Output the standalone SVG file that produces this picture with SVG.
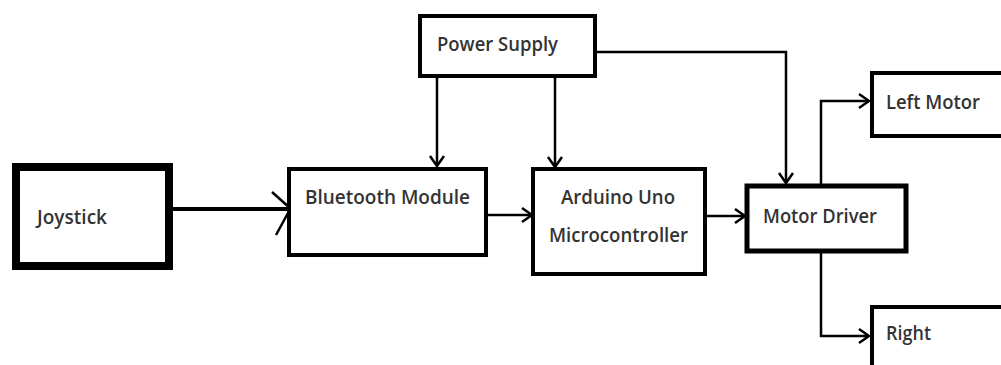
<svg xmlns="http://www.w3.org/2000/svg" width="1001" height="365" viewBox="0 0 1001 365">
<style>
.box{fill:#fff;stroke:#000}
.t{font-family:"Open Sans","Liberation Sans",sans-serif;font-weight:600;font-size:20px;fill:#333}
.c{fill:none;stroke:#000;stroke-width:2.5}
</style>
<defs>
<marker id="ah" markerUnits="userSpaceOnUse" markerWidth="20" markerHeight="20" viewBox="-12 -10 14 20" refX="0" refY="0" orient="auto">
<path d="M-10,-7 L0,0 L-10,7" fill="none" stroke="#000" stroke-width="2.5"/>
</marker>
</defs>
<rect width="1001" height="365" fill="#fff"/>
<g id="connectors">
<line x1="169" y1="209" x2="290" y2="209" stroke="#000" stroke-width="4"/>
<path d="M272,192 L291,209 M276,235 L288,213" fill="none" stroke="#000" stroke-width="2.5"/>
<path class="c" d="M437,77 V166" marker-end="url(#ah)"/>
<path class="c" d="M555,77 V167" marker-end="url(#ah)"/>
<path class="c" d="M595,52 H786 V183" marker-end="url(#ah)"/>
<path class="c" d="M486,215 H532" marker-end="url(#ah)"/>
<path class="c" d="M705,216 H745" marker-end="url(#ah)"/>
<path class="c" d="M821,185 V101 H869" marker-end="url(#ah)"/>
<path class="c" d="M821,251 V336 H869" marker-end="url(#ah)"/>
</g>
<g id="joystick">
<rect class="box" x="16" y="167" width="153" height="99" stroke-width="8"/>
<text class="t" x="37" y="224" font-size="17" font-weight="700" textLength="70" lengthAdjust="spacingAndGlyphs">Joystick</text>
</g>
<g id="bluetooth">
<rect class="box" x="289" y="169" width="197" height="86" stroke-width="4"/>
<text class="t" x="305" y="204" textLength="165" lengthAdjust="spacingAndGlyphs">Bluetooth Module</text>
</g>
<g id="arduino">
<rect class="box" x="533" y="169" width="172" height="105" stroke-width="4"/>
<text class="t" x="561" y="204" textLength="114" lengthAdjust="spacingAndGlyphs">Arduino Uno</text>
<text class="t" x="549" y="242" textLength="139" lengthAdjust="spacingAndGlyphs">Microcontroller</text>
</g>
<g id="power">
<rect class="box" x="420" y="16" width="175" height="60" stroke-width="4"/>
<text class="t" x="437" y="51" textLength="121" lengthAdjust="spacingAndGlyphs">Power Supply</text>
</g>
<g id="motordriver">
<rect class="box" x="747" y="186" width="159" height="65" stroke-width="5"/>
<text class="t" x="763" y="223" textLength="114" lengthAdjust="spacingAndGlyphs">Motor Driver</text>
</g>
<g id="leftmotor">
<rect class="box" x="872" y="73" width="140" height="63" stroke-width="4"/>
<text class="t" x="886" y="109" textLength="94" lengthAdjust="spacingAndGlyphs">Left Motor</text>
</g>
<g id="right">
<rect class="box" x="872" y="307" width="140" height="70" stroke-width="4"/>
<text class="t" x="886" y="340" textLength="45" lengthAdjust="spacingAndGlyphs">Right</text>
</g>
</svg>
